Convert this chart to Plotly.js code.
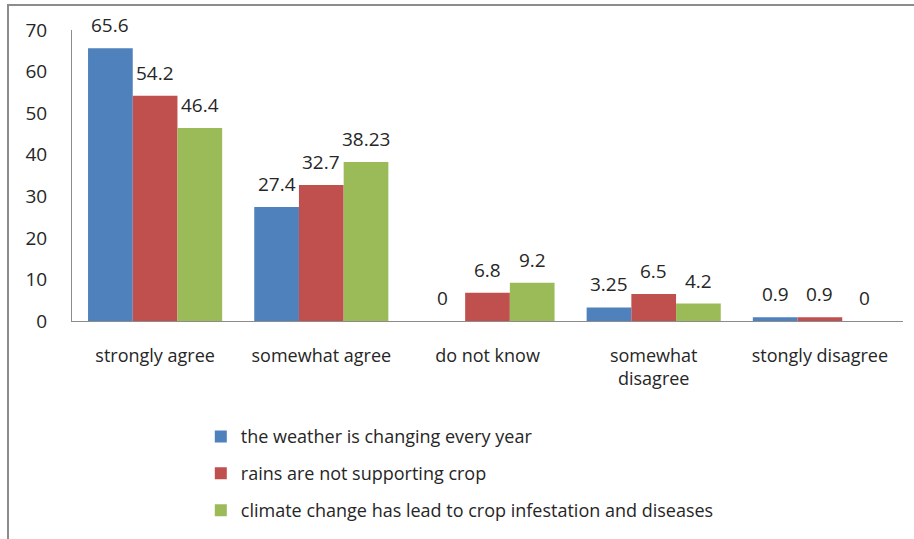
<!DOCTYPE html>
<html>
<head>
<meta charset="utf-8">
<script src="https://cdn.plot.ly/plotly-3.0.1.min.js"></script>
<style>
  html, body { margin: 0; padding: 0; background: #fff; }
  #wrap { position: relative; width: 914px; height: 539px; }
  #chart { position: absolute; left: 0; top: 0; width: 914px; height: 539px; }
  #frame { position: absolute; left: 7px; top: 4px; width: 907px; height: 535px;
           border-top: 2px solid #8c8c8c; border-left: 2px solid #8c8c8c;
           pointer-events: none; box-sizing: border-box; }
</style>
</head>
<body>
<div id="wrap">
  <div id="chart"></div>
  <div id="frame"></div>
</div>
<script>
// Survey responses (%) per statement
const categories = ['strongly agree', 'somewhat agree', 'do not know', 'somewhat<br>disagree', 'stongly disagree'];
const seriesNames = [
  'the weather is changing every year',
  'rains are not supporting crop',
  'climate change has lead to crop infestation and diseases'
];
const weatherChanging = [65.6, 27.4, 0, 3.25, 0.9];
const rainsNotSupporting = [54.2, 32.7, 6.8, 6.5, 0.9];
const cropInfestation = [46.4, 38.23, 9.2, 4.2, 0];
const seriesColors = ['#4F81BD', '#C0504D', '#9BBB59'];
const yTicks = [0, 10, 20, 30, 40, 50, 60, 70];

const FONT = 'Open Sans, Noto Sans, sans-serif';
const TEXT = '#262626';

const W = 914, H = 539;
const margin = { l: 72, r: 11, t: 30, b: 218, autoexpand: false };
const bargap = 0.193;

const values = [weatherChanging, rainsNotSupporting, cropInfestation];
const traces = values.map((vals, i) => ({
  type: 'bar',
  name: seriesNames[i],
  x: categories,
  y: vals,
  marker: { color: seriesColors[i], line: { width: 0 } },
  legendgroup: 'g' + i,
  hoverinfo: 'x+y+name'
}));

// Value labels sit above each bar, shifted sideways to the bar's slot in its group
const plotW = W - margin.l - margin.r;
const slotPx = plotW / categories.length * (1 - bargap) / values.length;
const annotations = [];
values.forEach((vals, i) => {
  vals.forEach((v, j) => {
    annotations.push({
      x: categories[j], y: v, xref: 'x', yref: 'y',
      text: String(v),
      showarrow: false,
      xanchor: 'center', yanchor: 'bottom',
      xshift: (i - (values.length - 1) / 2) * slotPx,
      yshift: 8,
      font: { family: FONT, size: 19, color: TEXT }
    });
  });
});

const layout = {
  width: W,
  height: H,
  margin: margin,
  paper_bgcolor: '#ffffff',
  plot_bgcolor: '#ffffff',
  font: { family: FONT, size: 18, color: TEXT },
  barmode: 'group',
  bargap: bargap,
  bargroupgap: 0,
  showlegend: true,
  annotations: annotations,
  legend: {
    orientation: 'v',
    x: 0.155, xanchor: 'left',
    y: -0.334, yanchor: 'top',
    traceorder: 'grouped',
    tracegroupgap: 10.5,
    font: { family: FONT, size: 18, color: TEXT },
    itemwidth: 30,
    bgcolor: 'rgba(0,0,0,0)'
  },
  xaxis: {
    type: 'category',
    showline: true,
    linecolor: '#8c8c8c',
    linewidth: 1,
    ticks: '',
    ticklabelstandoff: 18,
    showgrid: false,
    zeroline: false,
    automargin: false,
    tickfont: { family: FONT, size: 18, color: TEXT }
  },
  yaxis: {
    range: [0, 70],
    tickvals: yTicks,
    ticktext: yTicks.map(String),
    showline: true,
    linecolor: '#8c8c8c',
    linewidth: 1,
    ticks: '',
    ticklabelstandoff: 20,
    showgrid: false,
    zeroline: false,
    automargin: false,
    tickfont: { family: FONT, size: 19, color: TEXT }
  }
};

Plotly.newPlot('chart', traces, layout, { displayModeBar: false, staticPlot: true });
</script>
</body>
</html>
